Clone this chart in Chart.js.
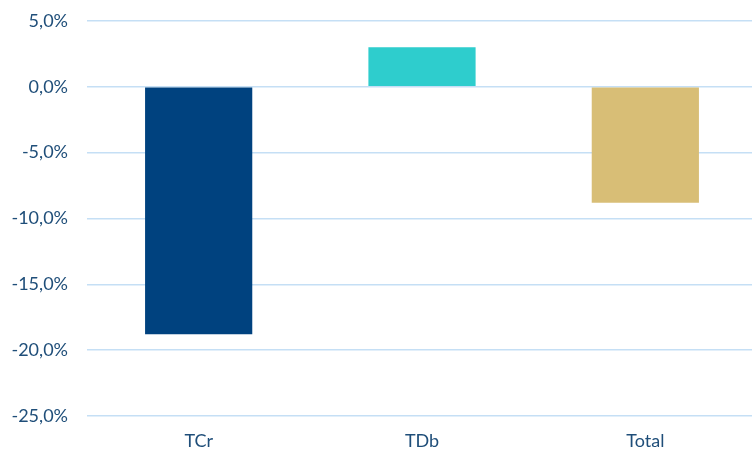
<!DOCTYPE html>
<html>
<head>
<meta charset="utf-8">
<script src="https://cdn.jsdelivr.net/npm/chart.js@4/dist/chart.umd.min.js"></script>
<style>
  html, body { margin: 0; padding: 0; background: #fff; overflow: hidden; }
  /* plot runs a few px past the right edge in the original */
  #wrap { width: 757px; height: 452px; }
</style>
</head>
<body>
<div id="wrap"><canvas id="canvas"></canvas></div>
<script>
const categories = ['TCr', 'TDb', 'Total'];
const values = [-18.8, 3.0, -8.8];
const barColors = ['#00427F', '#2ECDCD', '#D8BE76'];
const yMin = -25;
const yMax = 5;
const yStep = 5;

const labelColor = '#1F4E79';
const gridColor = '#C5DFF5';

const ctx = document.getElementById('canvas').getContext('2d');
const myChart = new Chart(ctx, {
    type: 'bar',
    data: {
        labels: categories,
        datasets: [{
            data: values,
            backgroundColor: barColors,
            barPercentage: 1,
            categoryPercentage: 0.48
        }]
    },
    options: {
        responsive: true,
        maintainAspectRatio: false,
        animation: false,
        layout: {
            padding: { top: 21, right: 0, bottom: 0, left: 0 }
        },
        plugins: {
            legend: { display: false },
            tooltip: { enabled: false }
        },
        scales: {
            y: {
                min: yMin,
                max: yMax,
                border: { display: false },
                grid: {
                    color: gridColor,
                    lineWidth: 1.5,
                    drawTicks: false
                },
                ticks: {
                    stepSize: yStep,
                    padding: 19,
                    color: labelColor,
                    font: { family: 'Lato', size: 18 },
                    callback: (v) => v.toFixed(1).replace('.', ',') + '%'
                },
                afterFit: (scale) => {
                    scale.width = 87;
                    scale.paddingTop = 0;
                    scale.paddingBottom = 0;
                }
            },
            x: {
                border: { display: false },
                grid: { display: false, drawTicks: false },
                ticks: {
                    padding: 14,
                    color: labelColor,
                    font: { family: 'Lato', size: 18 }
                },
                afterFit: (scale) => {
                    scale.height = 36;
                    scale.paddingLeft = 0;
                    scale.paddingRight = 0;
                }
            }
        }
    }
});
</script>
</body>
</html>
